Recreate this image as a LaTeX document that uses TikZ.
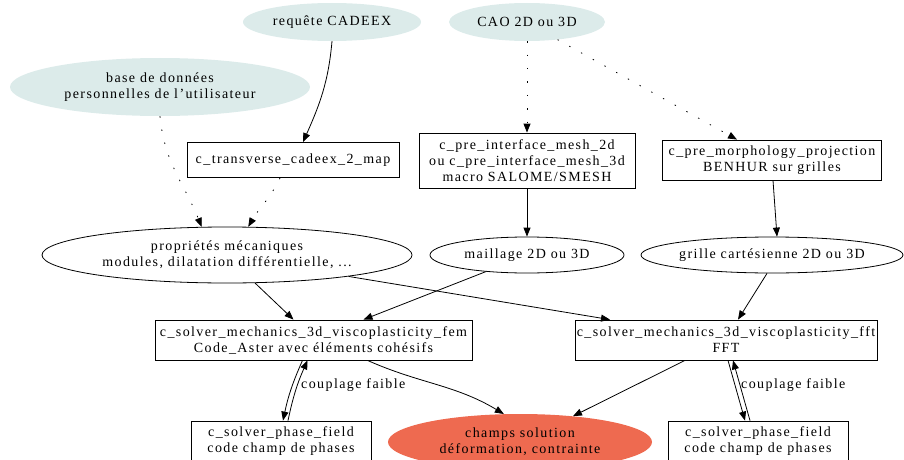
\documentclass[tikz,border=0pt]{standalone}
\usepackage{fontspec}
\setmainfont{Liberation Serif}[LetterSpace=10]
\usetikzlibrary{shapes.geometric,arrows.meta}
\definecolor{paleteal}{HTML}{DCEBEA}
\definecolor{coraltwo}{HTML}{EE6A50}
\tikzset{
  txt/.style={font=\fontsize{14}{16}\selectfont, align=center, inner sep=0pt},
  src/.style={txt, ellipse, fill=paleteal, inner xsep=-40pt, inner ysep=-12pt},
  oval/.style={txt, ellipse, draw, line width=0.8pt, inner xsep=-40pt, inner ysep=-12pt},
  result/.style={txt, ellipse, fill=coraltwo, inner xsep=-40pt, inner ysep=-12pt},
  box/.style={txt, rectangle, draw, line width=0.8pt},
  flow/.style={-{Triangle[length=9pt,width=7pt]}, line width=0.8pt},
  dotflow/.style={flow, dash pattern=on 1.4pt off 12pt},
}
\begin{document}
\begin{tikzpicture}[x=1pt,y=1pt]
\useasboundingbox (0,0) rectangle (904,459);
\clip (0,0) rectangle (904,459);

% inputs
\node[src, minimum width=178pt, minimum height=38pt] (req) at (332,437) {requête CADEEX};
\node[src, minimum width=156pt, minimum height=38pt] (cao) at (527,437) {CAO 2D ou 3D};
\node[src, minimum width=300pt, minimum height=58pt] (db) at (160,372) {base de données\\personnelles de l’utilisateur};

% preprocessing
\node[box, minimum width=212pt, minimum height=35pt] (trans) at (293,299) {c\_transverse\_cadeex\_2\_map};
\node[box, minimum width=216pt, minimum height=55pt] (preint) at (527,298.5) {c\_pre\_interface\_mesh\_2d\\ou c\_pre\_interface\_mesh\_3d\\macro SALOME/SMESH};
\node[box, minimum width=219pt, minimum height=40pt] (morph) at (772,299) {c\_pre\_morphology\_projection\\BENHUR sur grilles};

% intermediate data
\node[oval, minimum width=370pt, minimum height=56pt] (prop) at (227,204) {propriétés mécaniques\\modules, dilatation différentielle, ...};
\node[oval, minimum width=194pt, minimum height=36pt] (mail) at (527,204) {maillage 2D ou 3D};
\node[oval, minimum width=262pt, minimum height=36pt] (grid) at (772,204) {grille cartésienne 2D ou 3D};

% solvers
\node[box, minimum width=317pt, minimum height=40pt] (fem) at (313.5,119) {c\_solver\_mechanics\_3d\_viscoplasticity\_fem\\Code\_Aster avec éléments cohésifs};
\node[box, minimum width=302pt, minimum height=40pt] (fft) at (726,119) {c\_solver\_mechanics\_3d\_viscoplasticity\_fft\\FFT};

% outputs and coupled codes
\node[result, minimum width=264pt, minimum height=56pt] (out) at (520,17) {champs solution\\déformation, contrainte};
\node[box, minimum width=180pt, minimum height=40pt] (pfl) at (281,18) {c\_solver\_phase\_field\\code champ de phases};
\node[box, minimum width=180pt, minimum height=40pt] (pfr) at (758,18) {c\_solver\_phase\_field\\code champ de phases};

% connectors
\draw[flow] (req.south) to[out=-95,in=66] ([xshift=10pt]trans.north);
\draw[dotflow] (db.south) to[out=-85,in=112] (prop.132);
\draw[dotflow] ([xshift=-13pt]trans.south) to[out=-115,in=60] (prop.53);
\draw[dotflow] (cao.south) -- (preint.north);
\draw[dotflow] (cao.-30) -- ([xshift=-35pt]morph.north);
\draw[flow] (preint.south) -- (mail.north);
\draw[flow] ([xshift=1pt]morph.south) -- ([xshift=5pt]grid.north);
\draw[flow] (prop.-45) -- ([xshift=-20pt]fem.north);
\draw[flow] (mail.-158) -- ([xshift=50pt]fem.north);
\draw[flow] (prop.-10) -- ([xshift=-116pt]fft.north);
\draw[flow] ([xshift=-5pt]grid.south) -- ([xshift=12pt]fft.north);
\draw[flow] ([xshift=54pt]fem.south) to[out=-24,in=149] (out.120);
\draw[flow] ([xshift=-41pt]fft.south) -- (out.26);

% weak coupling, FEM side
\draw[flow] ([xshift=-11pt]fem.south) to[bend right=6] ([xshift=2pt]pfl.north);
\draw[flow] ([xshift=7pt]pfl.north) to[bend left=6] ([xshift=-6pt]fem.south);
\node[txt, anchor=west] (lblL) at (301,74) {couplage faible};

% weak coupling, FFT side
\draw[flow] ([xshift=2pt]fft.south) -- ([xshift=-13pt]pfr.north);
\draw[flow] ([xshift=-8pt]pfr.north) -- ([xshift=7pt]fft.south);
\node[txt, anchor=west] (lblR) at (741,74) {couplage faible};
\end{tikzpicture}
\end{document}
